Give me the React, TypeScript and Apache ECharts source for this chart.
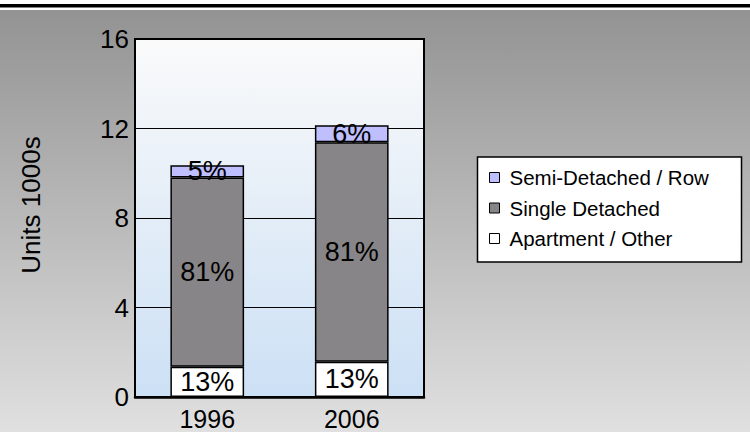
import React, { useEffect, useRef } from "react";
import * as echarts from "echarts";

const categories = ["1996", "2006"];
const apartmentOther = [1.35, 1.58];
const singleDetached = [8.46, 9.8];
const semiDetachedRow = [0.55, 0.76];
const apartmentLabels = ["13%", "13%"];
const singleLabels = ["81%", "81%"];
const semiLabels = ["5%", "6%"];
const yTicks = { min: 0, max: 16, interval: 4 };
const yAxisName = "Units 1000s";

const FONT = "'Liberation Sans', Arial, sans-serif";

export default function App() {
  const ref = useRef<HTMLDivElement>(null);
  useEffect(() => {
    document.body.style.margin = "0";
    const chart = echarts.init(ref.current!, null, { renderer: "svg" });
    const barStyle = (color: string) => ({
      color,
      borderColor: "#000",
      borderWidth: 1.5,
    });
    const lbl = (labels: string[]) => ({
      show: true,
      position: "inside",
      color: "#000",
      fontSize: 27,
      fontFamily: FONT,
      formatter: (p: any) => labels[p.dataIndex],
    });
    chart.setOption({
      animation: false,
      backgroundColor: "#fff",
      textStyle: { fontFamily: FONT },
      graphic: [
        {
          type: "rect",
          z: -10,
          silent: true,
          shape: { x: 0, y: 10, width: 750, height: 422 },
          style: {
            fill: new echarts.graphic.LinearGradient(0, 0, 0, 1, [
              { offset: 0, color: "#939393" },
              { offset: 1, color: "#e0e0e0" },
            ]),
          },
        },
        {
          type: "rect",
          z: -10,
          silent: true,
          shape: { x: 0, y: 4, width: 750, height: 3.5 },
          style: { fill: "#000" },
        },
        {
          type: "rect",
          z: 0,
          silent: true,
          shape: { x: 477.5, y: 157, width: 264, height: 105 },
          style: { fill: "#fff", stroke: "#000", lineWidth: 1.5 },
        },
        {
          type: "text",
          z: 10,
          x: 31,
          y: 205,
          rotation: Math.PI / 2,
          style: {
            text: yAxisName,
            fontSize: 26,
            fontFamily: FONT,
            fill: "#000",
            align: "center",
            verticalAlign: "middle",
          },
        },
      ],
      legend: {
        orient: "vertical",
        left: 489,
        top: 167,
        padding: 0,
        itemGap: 9.5,
        itemWidth: 10,
        itemHeight: 10,
        icon: "rect",
        z: 5,
        data: ["Semi-Detached / Row", "Single Detached", "Apartment / Other"],
        textStyle: {
          fontSize: 20.5,
          fontFamily: FONT,
          color: "#000",
          lineHeight: 20,
          padding: [0, 0, 0, 5],
        },
        itemStyle: { borderColor: "#000", borderWidth: 1 },
      },
      grid: {
        left: 135,
        top: 39,
        right: 326,
        bottom: 35,
        show: true,
        borderColor: "#000",
        borderWidth: 2,
        backgroundColor: new echarts.graphic.LinearGradient(0, 0, 0, 1, [
          { offset: 0, color: "#fafafa" },
          { offset: 1, color: "#cce0f5" },
        ]),
      },
      xAxis: {
        type: "category",
        data: categories,
        axisLine: { lineStyle: { color: "#000", width: 2.5 } },
        axisTick: { show: false },
        axisLabel: { color: "#000", fontSize: 25, fontFamily: FONT, margin: 9, lineHeight: 25 },
      },
      yAxis: {
        type: "value",
        min: yTicks.min,
        max: yTicks.max,
        interval: yTicks.interval,
        axisLine: { show: true, lineStyle: { color: "#000", width: 2 } },
        axisTick: { show: false },
        splitLine: { lineStyle: { color: "#000", width: 1.2 } },
        axisLabel: { color: "#000", fontSize: 26, fontFamily: FONT, margin: 6 },
      },
      series: [
        {
          name: "Apartment / Other",
          type: "bar",
          stack: "total",
          barWidth: "51%",
          data: apartmentOther,
          itemStyle: barStyle("#ffffff"),
          label: lbl(apartmentLabels),
        },
        {
          name: "Single Detached",
          type: "bar",
          stack: "total",
          barWidth: "51%",
          data: singleDetached,
          itemStyle: barStyle("#878587"),
          label: lbl(singleLabels),
        },
        {
          name: "Semi-Detached / Row",
          type: "bar",
          stack: "total",
          barWidth: "51%",
          data: semiDetachedRow,
          itemStyle: barStyle("#bfbfff"),
          label: lbl(semiLabels),
        },
      ],
    });
    return () => chart.dispose();
  }, []);
  return (
    <div
      ref={ref}
      style={{ position: "fixed", left: 0, top: 0, width: 750, height: 432 }}
    />
  );
}
